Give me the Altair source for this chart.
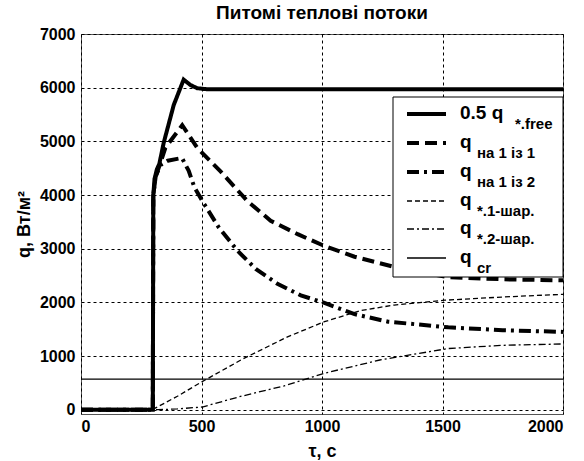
import altair as alt
import pandas as pd

# ---- data ----
tau_free = [0, 298, 300, 305, 315, 325, 343, 385, 426, 454, 482, 524, 2000]
q_free = [0, 0, 4000, 4300, 4480, 4580, 4970, 5680, 6150, 6050, 5990, 5970, 5970]

tau_n11 = [0, 298, 300, 310, 330, 350, 420, 482, 579, 690, 787, 899, 1010, 1135, 1300, 1524, 1750, 2000]
q_n11 = [0, 0, 4000, 4350, 4600, 4880, 5300, 4880, 4440, 3890, 3520, 3270, 3050, 2850, 2660, 2470, 2430, 2410]

tau_n12 = [0, 298, 300, 310, 330, 360, 419, 447, 470, 503, 572, 649, 725, 815, 912, 1010, 1135, 1274, 1524, 1750, 2000]
q_n12 = [0, 0, 4000, 4350, 4560, 4640, 4690, 4450, 4150, 3890, 3395, 2963, 2624, 2346, 2130, 1990, 1780, 1640, 1535, 1480, 1450]

tau_1s = [0, 300, 308, 400, 503, 676, 857, 1010, 1163, 1300, 1510, 1750, 2000]
q_1s = [0, 0, 30, 250, 524, 957, 1357, 1640, 1850, 1950, 2040, 2100, 2150]

tau_2s = [0, 320, 400, 503, 662, 843, 1010, 1240, 1524, 1750, 2000]
q_2s = [0, 0, 15, 50, 247, 444, 680, 926, 1140, 1200, 1225]

tau_cr = [0, 2000]
q_cr = [570, 570]

legend_main = ["0.5 q", "q", "q", "q", "q", "q"]
legend_sub = ["*.free", "на 1 із 1", "на 1 із 2", "*.1-шар.", "*.2-шар.", "cr"]

FONT = "Liberation Sans"
W, H = 482, 380

styles = [
    dict(strokeWidth=4, strokeDash=[1, 0]),
    dict(strokeWidth=4, strokeDash=[12, 6]),
    dict(strokeWidth=4, strokeDash=[12, 5, 3, 5]),
    dict(strokeWidth=1.3, strokeDash=[5, 3]),
    dict(strokeWidth=1.3, strokeDash=[7, 3, 2, 3]),
    dict(strokeWidth=1.3, strokeDash=[1, 0]),
]

series = [
    (tau_free, q_free),
    (tau_n11, q_n11),
    (tau_n12, q_n12),
    (tau_1s, q_1s),
    (tau_2s, q_2s),
    (tau_cr, q_cr),
]

xscale = alt.Scale(domain=[0, 2000], nice=False, zero=False)
yscale = alt.Scale(domain=[-80, 7000], nice=False, zero=False)

xaxis = alt.Axis(values=[0, 500, 1000, 1500, 2000], format="d", title="τ, с",
                 grid=True, gridDash=[3, 3], gridColor="#000", gridWidth=1,
                 ticks=False, domain=False, labelPadding=4, titlePadding=8)
yaxis = alt.Axis(values=[0, 1000, 2000, 3000, 4000, 5000, 6000, 7000], format="d",
                 title="q, Вт/м²", grid=True, gridDash=[3, 3], gridColor="#000",
                 gridWidth=1, ticks=False, domain=False, labelPadding=6, titlePadding=6)

layers = []
for i, ((t, q), st) in enumerate(zip(series, styles)):
    df = pd.DataFrame({"tau": t, "q": q})
    if i == 0:
        enc = dict(x=alt.X("tau:Q", scale=xscale, axis=xaxis),
                   y=alt.Y("q:Q", scale=yscale, axis=yaxis))
    else:
        enc = dict(x=alt.X("tau:Q", scale=xscale),
                   y=alt.Y("q:Q", scale=yscale))
    layers.append(alt.Chart(df).mark_line(color="black", clip=True, **st).encode(**enc))

# ---- custom legend ----
one = pd.DataFrame({"a": [0]})
layers.append(alt.Chart(one).mark_rect(fill="white", stroke="black", strokeWidth=1).encode(
    x=alt.value(312), x2=alt.value(482), y=alt.value(63), y2=alt.value(243)))
row_y = [80, 109, 138, 167, 195, 224]
for i in range(6):
    yy = row_y[i]
    layers.append(alt.Chart(one).mark_rule(color="black", **styles[i]).encode(
        x=alt.value(326), x2=alt.value(365), y=alt.value(yy)))
    layers.append(alt.Chart(one).mark_text(text=legend_main[i], font=FONT, fontSize=19,
                                           fontWeight="bold", align="left", baseline="middle").encode(
        x=alt.value(379), y=alt.value(yy - 1)))
    sx = 434 if i == 0 else 396
    layers.append(alt.Chart(one).mark_text(text=legend_sub[i], font=FONT, fontSize=15,
                                           fontWeight="bold", align="left", baseline="middle").encode(
        x=alt.value(sx), y=alt.value(yy + 10)))

chart = alt.layer(*layers).properties(
    width=W, height=H,
    title=alt.TitleParams("Питомі теплові потоки", font=FONT, fontSize=19, fontWeight="bold",
                          anchor="middle", offset=3, color="black"),
    autosize=alt.AutoSizeParams(type="none"),
    padding={"left": 81, "top": 34, "right": 584 - 81 - W, "bottom": 461 - 34 - H},
    background="white",
).configure_view(stroke="#555", strokeWidth=1).configure_axis(
    labelFont=FONT, labelFontSize=16, labelFontWeight="bold", labelColor="black",
    titleFont=FONT, titleFontSize=18, titleFontWeight="bold", titleColor="black",
)

chart.save("out.html", embed_options={"renderer": "svg", "actions": False})
